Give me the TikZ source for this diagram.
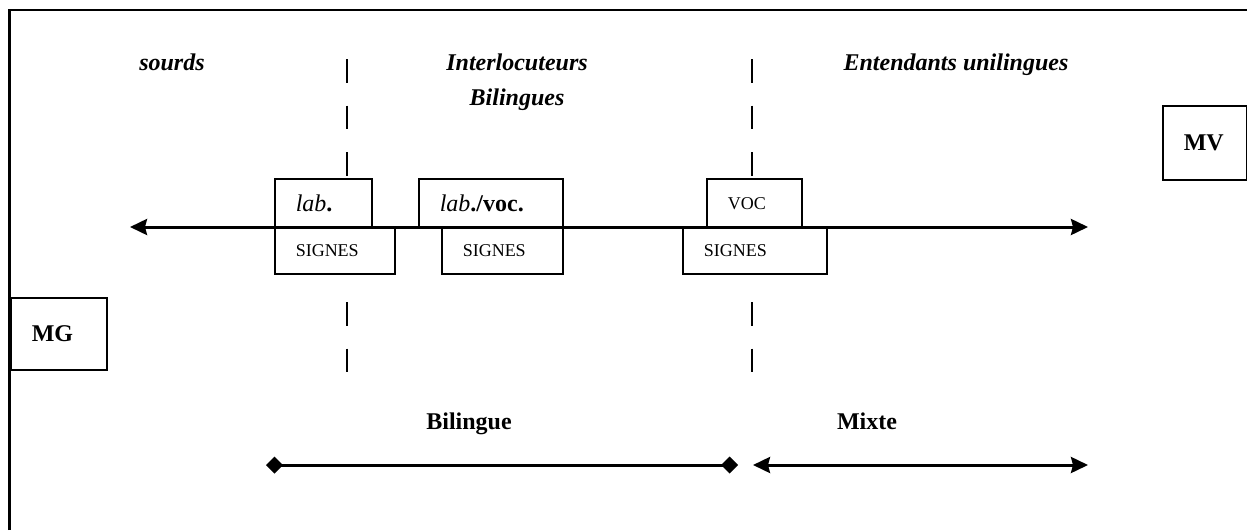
\documentclass[tikz,border=0pt]{standalone}
\usepackage{fontspec}
\setmainfont{Liberation Serif}
\usetikzlibrary{arrows.meta}
\tikzset{
  arr/.tip={Stealth[length=8.5pt,width=8pt,inset=1pt]},
  dia/.tip={Diamond[length=8.5pt,width=8.5pt]},
}
\begin{document}
\begin{tikzpicture}[x=0.5pt,y=-0.5pt,
  box/.style={draw, line width=0.75pt, fill=white, inner xsep=10.5pt, inner ysep=0pt,
    align=left, anchor=north west, font=\fontsize{12}{14}\selectfont},
  smalltxt/.style={font=\fontsize{9}{11}\selectfont},
  boldtxt/.style={font=\fontsize{12}{14}\selectfont\bfseries},
  head/.style={font=\fontsize{12}{17.5}\selectfont\bfseries\itshape, align=center, anchor=base, inner sep=0pt},
  lbl/.style={font=\fontsize{12}{14}\selectfont\bfseries, anchor=base, inner sep=0pt},
  sepline/.style={line width=0.6pt, dash pattern=on 11.75pt off 11.5pt},
  axis/.style={line width=1.5pt},
]
\useasboundingbox (0,0) rectangle (1247,530);
% frame
\draw[line width=1.1pt] (9.5,530) -- (9.5,10) -- (1247,10);

% headings
\node[head] (hs) at (172,70) {sourds};
\node[head] (hi) at (517,105) {Interlocuteurs\\Bilingues};
\node[head] (he) at (956,70) {Entendants unilingues};

% separators (drawn behind boxes)
\coordinate (d1t) at (347,59);
\coordinate (d1a) at (347,302);
\coordinate (d1b) at (347,372);
\coordinate (d2t) at (752,59);
\coordinate (d2a) at (752,302);
\coordinate (d2b) at (752,372);

% boxes
\node[box, text width=27.5pt, minimum height=24.5pt] (lab) at (274,178) {\textit{lab}\textbf{.}};
\node[box, text width=51pt, minimum height=24.5pt] (labvoc) at (418,178) {\textit{lab}\textbf{./voc.}};
\node[box, smalltxt, text width=26.5pt, minimum height=24.5pt] (voc) at (706,178) {VOC};
\node[box, smalltxt, text width=39pt, minimum height=23pt] (sig1) at (274,227) {SIGNES};
\node[box, smalltxt, text width=39.5pt, minimum height=23pt] (sig2) at (441,227) {SIGNES};
\node[box, smalltxt, text width=51pt, minimum height=23pt] (sig3) at (682,227) {SIGNES};
\node[box, boldtxt, text width=27pt, minimum height=36pt] (mg) at (10,297) {MG};
\node[box, boldtxt, text width=21pt, minimum height=37pt] (mv) at (1162,105) {MV};

\draw[sepline] (d1t) -- (d1t |- lab.north);
\draw[sepline] (d1a) -- (d1b);
\draw[sepline] (d2t) -- (d2t |- voc.north);
\draw[sepline] (d2a) -- (d2b);

% main axis
\coordinate (axL) at (130,227);
\coordinate (axR) at (1088,227);
\draw[axis, {arr}-{arr}] (axL) -- (axR);

% bottom labels and arrows
\node[lbl] (bil) at (469,429) {Bilingue};
\node[lbl] (mix) at (867,429) {Mixte};
\coordinate (b1) at (266,465);
\coordinate (b2) at (738,465);
\coordinate (m1) at (753,465);
\coordinate (m2) at (1088,465);
\draw[axis, {dia}-{dia}] (b1) -- (b2);
\draw[axis, {arr}-{arr}] (m1) -- (m2);
\end{tikzpicture}
\end{document}
